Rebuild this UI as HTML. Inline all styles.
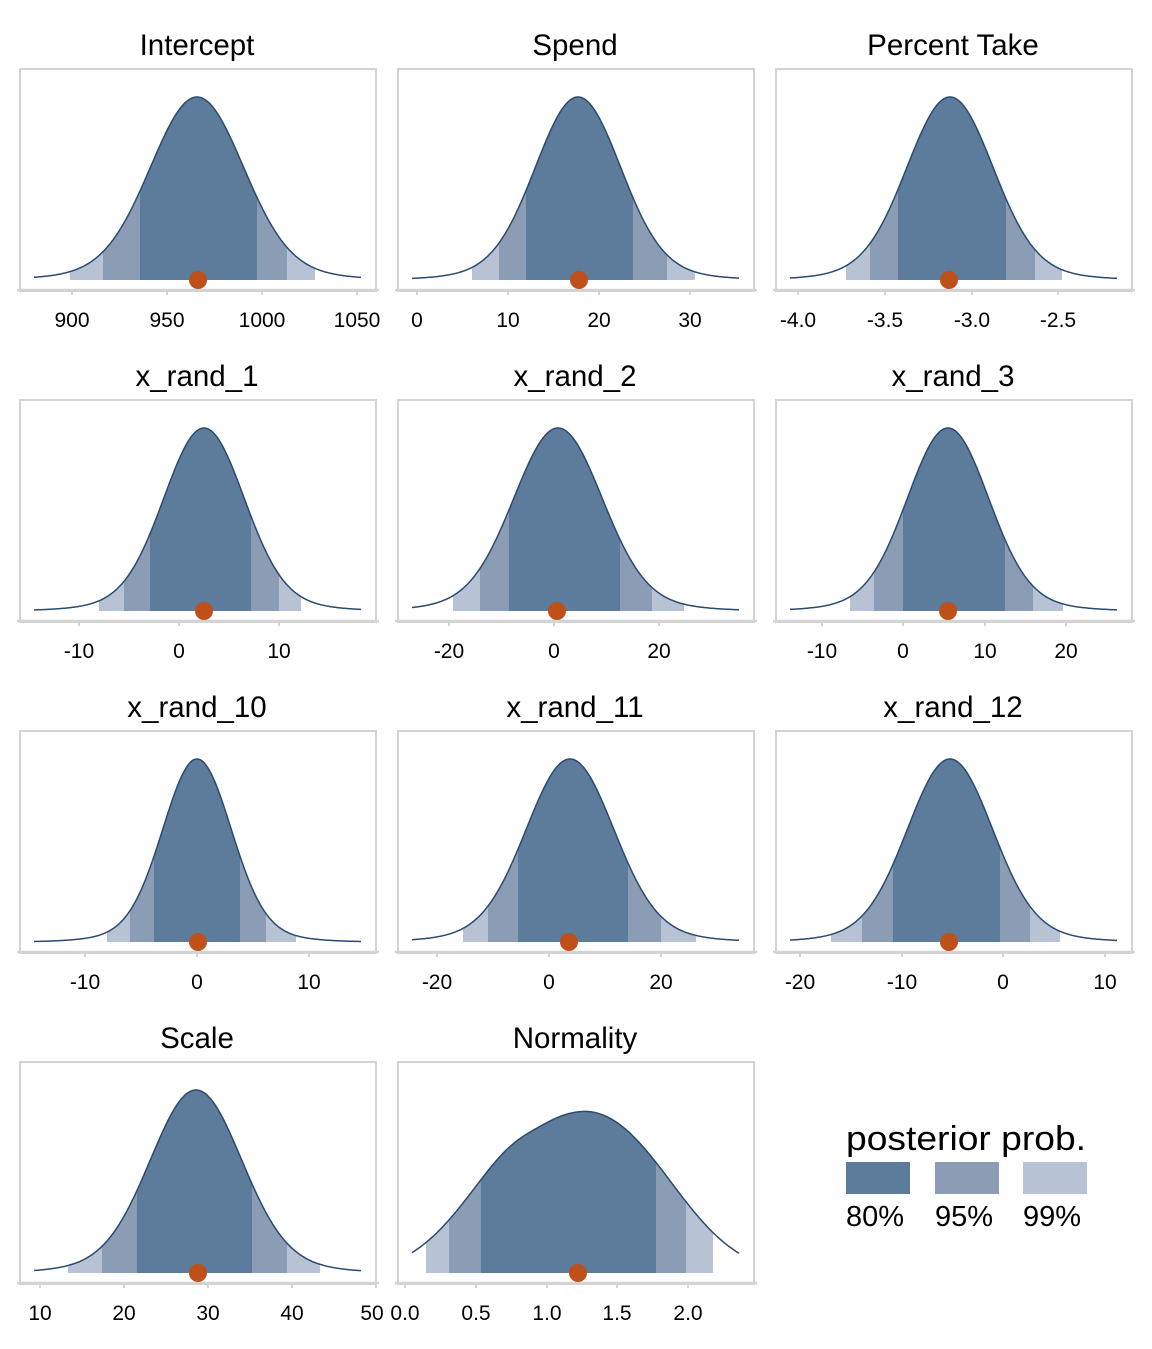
<!DOCTYPE html>
<html><head><meta charset="utf-8"><style>
html,body{margin:0;padding:0;background:#fff}
svg text{font-family:"Liberation Sans",Arial,sans-serif;fill:#000}
.t{font-size:29.5px;text-anchor:middle}
.k{font-size:21px;text-anchor:middle}
</style></head><body>
<svg id="s" width="1152" height="1344" viewBox="0 0 1152 1344" xmlns="http://www.w3.org/2000/svg">
<g id="panels"></g>
<text class="t" x="197" y="55">Intercept</text>
<text class="t" x="575" y="55">Spend</text>
<text class="t" x="953" y="55">Percent Take</text>
<text class="t" x="197" y="386">x_rand_1</text>
<text class="t" x="575" y="386">x_rand_2</text>
<text class="t" x="953" y="386">x_rand_3</text>
<text class="t" x="197" y="717">x_rand_10</text>
<text class="t" x="575" y="717">x_rand_11</text>
<text class="t" x="953" y="717">x_rand_12</text>
<text class="t" x="197" y="1048">Scale</text>
<text class="t" x="575" y="1048">Normality</text>
<g class="k">
<text class="k" x="72" y="327">900</text><text class="k" x="167" y="327">950</text><text class="k" x="262" y="327">1000</text><text class="k" x="357" y="327">1050</text>
<text class="k" x="417" y="327">0</text><text class="k" x="508" y="327">10</text><text class="k" x="599" y="327">20</text><text class="k" x="690" y="327">30</text>
<text class="k" x="798" y="327">-4.0</text><text class="k" x="885" y="327">-3.5</text><text class="k" x="972" y="327">-3.0</text><text class="k" x="1058" y="327">-2.5</text>
<text class="k" x="79" y="658">-10</text><text class="k" x="179" y="658">0</text><text class="k" x="279" y="658">10</text>
<text class="k" x="449" y="658">-20</text><text class="k" x="554" y="658">0</text><text class="k" x="659" y="658">20</text>
<text class="k" x="822" y="658">-10</text><text class="k" x="903" y="658">0</text><text class="k" x="985" y="658">10</text><text class="k" x="1066" y="658">20</text>
<text class="k" x="85" y="989">-10</text><text class="k" x="197" y="989">0</text><text class="k" x="309" y="989">10</text>
<text class="k" x="437" y="989">-20</text><text class="k" x="549" y="989">0</text><text class="k" x="661" y="989">20</text>
<text class="k" x="800" y="989">-20</text><text class="k" x="902" y="989">-10</text><text class="k" x="1003" y="989">0</text><text class="k" x="1105" y="989">10</text>
<text class="k" x="40" y="1320">10</text><text class="k" x="124" y="1320">20</text><text class="k" x="208" y="1320">30</text><text class="k" x="292" y="1320">40</text><text class="k" x="372" y="1320">50</text>
<text class="k" x="405" y="1320">0.0</text><text class="k" x="476" y="1320">0.5</text><text class="k" x="547" y="1320">1.0</text><text class="k" x="617" y="1320">1.5</text><text class="k" x="688" y="1320">2.0</text>
</g>
<text x="846" y="1150" style="font-size:34px" textLength="240" lengthAdjust="spacingAndGlyphs">posterior prob.</text>
<rect x="846" y="1162" width="64" height="32" fill="#5d7b9a"/>
<rect x="935" y="1162" width="64" height="32" fill="#8a9db5"/>
<rect x="1023" y="1162" width="64" height="32" fill="#b7c3d4"/>
<text x="846" y="1226" style="font-size:29px">80%</text>
<text x="935" y="1226" style="font-size:29px">95%</text>
<text x="1023" y="1226" style="font-size:29px">99%</text>
</svg>
<script>
var P=[
 [19,69,197,[70,315],[103,287],[140,257],198,[72,167,262,357],2],
 [397,69,578,[472,695],[499,667],[526,633],579,[417,508,599,690],2],
 [775,69,950,[846,1062],[870,1035],[898,1006],949,[798,885,972,1058],2],
 [19,400,204,[99,301],[124,279],[150,251],204,[79,179,279],2],
 [397,400,558,[453,684],[480,652],[509,620],557,[449,554,659],2.3],
 [775,400,948,[850,1063],[874,1033],[903,1005],948,[822,903,985,1066],2.2],
 [19,731,197,[107,296],[130,266],[154,240],198,[85,197,309],2],
 [397,731,570,[463,696],[488,661],[518,628],569,[437,549,661],2.1],
 [775,731,950,[831,1060],[862,1030],[893,1000],949,[800,902,1003,1105],2.1],
 [19,1062,196,[68,320],[102,287],[137,252],198,[40,124,208,292,376],2],
 [397,1062,575,[426,713],[449,686],[481,656],578,[405,476,547,617,688],3]
];
var g=document.getElementById('panels'),h='';
P.forEach(function(p){
 var L=p[0],T=p[1],c=p[2],base=T+211,ax=T+221,pk=183;
 var p80=p[5],sig=(p80[1]-p80[0])/2.56,pw=p[8];
 var norm=(pw==3);
 if(norm){sig=90;pk=163;}
 var x0=L+15,x1=L+342;
 function f(x){
  var z=Math.abs(x-c)/sig,v;
  if(norm){v=Math.exp(-Math.pow(z,2.4)/2)-0.05*Math.exp(-Math.pow((x-540)/22,2)/2);}
  else{v=0.92*Math.exp(-z*z/2)+0.08*Math.exp(-z*z/2/3.5);}
  return base-pk*v;}
 function area(a,b,col){var s='M'+a+','+base;for(var x=a;x<=b;x+=1)s+=' L'+x+','+f(x).toFixed(1);s+=' L'+b+','+f(b).toFixed(1)+' L'+b+','+base+'Z';return '<path d="'+s+'" fill="'+col+'"/>';}
 h+='<rect x="'+(L+1)+'" y="'+T+'" width="356" height="222" fill="none" stroke="#d3d3d3" stroke-width="2"/>';
 h+='<line x1="'+(L-2)+'" x2="'+(L+360)+'" y1="'+ax+'" y2="'+ax+'" stroke="#d3d3d3" stroke-width="2.5"/>';
 p[7].forEach(function(t){h+='<line x1="'+t+'" x2="'+t+'" y1="'+ax+'" y2="'+(ax+5)+'" stroke="#d3d3d3" stroke-width="2"/>';});
 h+=area(p[3][0],p[3][1],'#b7c3d4')+area(p[4][0],p[4][1],'#8a9db5')+area(p80[0],p80[1],'#5d7b9a');
 var s='M'+x0+','+f(x0).toFixed(1);for(var x=x0+1;x<=x1;x++)s+=' L'+x+','+f(x).toFixed(1);
 h+='<path d="'+s+'" fill="none" stroke="#2a4a72" stroke-width="1.5"/>';
 h+='<circle cx="'+p[6]+'" cy="'+base+'" r="9" fill="#c0501a"/>';
});
g.innerHTML=h;
</script>
</body></html>
